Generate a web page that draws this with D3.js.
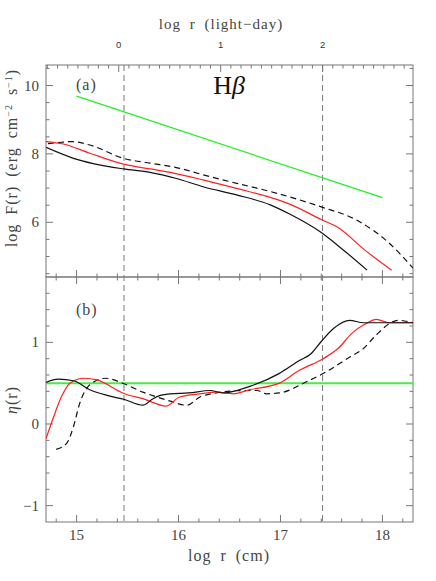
<!DOCTYPE html>
<html>
<head>
<meta charset="utf-8">
<script src="https://cdn.jsdelivr.net/npm/d3@7"></script>
<style>
  body { margin: 0; background: #fff; }
  svg text { font-family: "Liberation Serif", "DejaVu Serif", serif; }
  svg text.sans { font-family: "Liberation Sans", "DejaVu Sans", sans-serif; }
</style>
</head>
<body>
<div id="chart"></div>
<script>
// panel (a) : log F(r)
const fluxBlack = [[14.70,8.19],[14.97,7.87],[15.46,7.56],[15.72,7.46],[15.98,7.28],[16.24,7.04],[16.57,6.80],[16.90,6.51],[17.09,6.24],[17.40,5.70],[17.58,5.28],[17.85,4.60]];
const fluxRed = [[14.70,8.36],[14.87,8.29],[15.13,8.02],[15.46,7.70],[15.72,7.56],[15.95,7.44],[16.24,7.24],[16.57,6.99],[16.90,6.73],[17.09,6.53],[17.40,6.08],[17.58,5.82],[17.81,5.23],[18.09,4.60]];
const fluxDashed = [[14.72,8.30],[14.85,8.34],[14.95,8.36],[15.13,8.26],[15.46,7.87],[15.72,7.73],[15.98,7.60],[16.24,7.39],[16.57,7.14],[16.90,6.90],[17.17,6.67],[17.40,6.45],[17.75,6.06],[18.07,5.38],[18.30,4.66]];
const fluxGreen = [[15.0,9.69],[18.0,6.72]];

// panel (b) : eta(r)
const etaBlack = [[14.70,0.51],[14.82,0.55],[14.97,0.53],[15.13,0.42],[15.30,0.35],[15.47,0.30],[15.65,0.23],[15.75,0.31],[15.82,0.35],[15.92,0.37],[16.10,0.38],[16.31,0.41],[16.44,0.38],[16.57,0.41],[16.70,0.46],[16.99,0.62],[17.19,0.78],[17.30,0.86],[17.40,1.01],[17.52,1.17],[17.68,1.27],[17.81,1.24],[18.30,1.24]];
const etaRed = [[14.70,-0.18],[14.77,0.07],[14.85,0.33],[14.935,0.50],[15.07,0.56],[15.20,0.54],[15.47,0.37],[15.65,0.31],[15.88,0.22],[16.01,0.33],[16.21,0.37],[16.37,0.39],[16.54,0.37],[16.70,0.42],[16.99,0.50],[17.19,0.66],[17.42,0.80],[17.57,0.93],[17.70,1.11],[17.84,1.23],[17.94,1.28],[18.07,1.24],[18.30,1.24]];
const etaDashed = [[14.80,-0.31],[14.90,-0.24],[14.97,-0.03],[15.03,0.25],[15.13,0.48],[15.28,0.56],[15.47,0.49],[15.65,0.39],[15.79,0.33],[15.92,0.28],[16.08,0.23],[16.21,0.33],[16.37,0.38],[16.63,0.41],[16.77,0.41],[16.86,0.37],[16.99,0.38],[17.26,0.52],[17.45,0.64],[17.68,0.82],[17.80,0.91],[17.94,1.09],[18.07,1.23],[18.15,1.27],[18.30,1.24]];
const etaGreen = [[14.70,0.5],[18.30,0.5]];

// axes
const xTickLabels = [15, 16, 17, 18];
const dayTickLabels = [0, 1, 2];
const fluxTickLabels = [6, 8, 10];
const etaTickLabels = [-1, 0, 1];
const guideLines = [15.465, 17.413]; // dashed verticals (log r, cm)
const lightDay = 15.4134; // log(1 light-day in cm)

const W = 436, H = 581;
const axisCol = "#777", textCol = "#444";

const svg = d3.select("#chart").append("svg")
  .attr("width", W).attr("height", H);

const x = d3.scaleLinear().domain([14.7, 18.3]).range([46, 413]);
const ya = d3.scaleLinear().domain([4.4, 10.6]).range([277, 65]);
const yb = d3.scaleLinear().domain([-1.2, 1.8]).range([522, 277]);

const left = x.range()[0], right = x.range()[1];
const aTop = ya.range()[1], mid = ya.range()[0], bBot = yb.range()[0];

// clip paths
const defs = svg.append("defs");
defs.append("clipPath").attr("id", "clipA").append("rect")
  .attr("x", left).attr("y", aTop).attr("width", right - left).attr("height", mid - aTop);
defs.append("clipPath").attr("id", "clipB").append("rect")
  .attr("x", left).attr("y", mid).attr("width", right - left).attr("height", bBot - mid);

function range(a, b, s) {
  const out = [];
  for (let v = a; v <= b + 1e-9; v += s) out.push(Math.round(v * 1000) / 1000);
  return out;
}

// vertical ticks along a horizontal edge
function xTicks(yPos, vals, len, dir, pos) {
  svg.append("g").selectAll("line").data(vals).join("line")
    .attr("x1", d => pos(d)).attr("x2", d => pos(d))
    .attr("y1", yPos).attr("y2", yPos + dir * len)
    .attr("stroke", axisCol).attr("stroke-width", 1);
}
// horizontal ticks along a vertical edge
function yTicks(scale, xPos, vals, len, dir) {
  svg.append("g").selectAll("line").data(vals).join("line")
    .attr("x1", xPos).attr("x2", xPos + dir * len)
    .attr("y1", d => scale(d)).attr("y2", d => scale(d))
    .attr("stroke", axisCol).attr("stroke-width", 1);
}

const xMinor = range(14.8, 18.2, 0.2).filter(d => !xTickLabels.includes(Math.round(d * 10) / 10));
const dayPos = d => x(d + lightDay);
const dayAll = range(-0.7, 2.8, 0.1).filter(d => dayPos(d) > left + 1 && dayPos(d) < right - 1);
const dayMinor = dayAll.filter(d => !dayTickLabels.includes(d));

// bottom axis of panel b
xTicks(bBot, xTickLabels, 7, -1, x);
xTicks(bBot, xMinor, 3.5, -1, x);
// shared edge between panels
xTicks(mid, xTickLabels, 7, -1, x);
xTicks(mid, xMinor, 3.5, -1, x);
xTicks(mid, xTickLabels, 7, 1, x);
xTicks(mid, xMinor, 3.5, 1, x);
// top axis (light-day)
xTicks(aTop, dayTickLabels, 7, 1, dayPos);
xTicks(aTop, dayMinor, 3.5, 1, dayPos);

// panel a y ticks
const fluxMinor = range(4.5, 10.5, 0.5).filter(d => !fluxTickLabels.includes(d));
yTicks(ya, left, fluxTickLabels, 7, 1);
yTicks(ya, left, fluxMinor, 3.5, 1);
yTicks(ya, right, fluxTickLabels, 7, -1);
yTicks(ya, right, fluxMinor, 3.5, -1);

// panel b y ticks
const etaMinor = range(-1.0, 1.6, 0.2).filter(d => !etaTickLabels.includes(Math.round(d * 10) / 10));
yTicks(yb, left, etaTickLabels, 7, 1);
yTicks(yb, left, etaMinor, 3.5, 1);
yTicks(yb, right, etaTickLabels, 7, -1);
yTicks(yb, right, etaMinor, 3.5, -1);

// frames
svg.append("rect").attr("x", left).attr("y", aTop).attr("width", right - left).attr("height", mid - aTop)
  .attr("fill", "none").attr("stroke", axisCol).attr("stroke-width", 1);
svg.append("rect").attr("x", left).attr("y", mid).attr("width", right - left).attr("height", bBot - mid)
  .attr("fill", "none").attr("stroke", axisCol).attr("stroke-width", 1);

// dashed guide lines
svg.append("g").selectAll("line").data(guideLines).join("line")
  .attr("x1", d => x(d)).attr("x2", d => x(d))
  .attr("y1", aTop).attr("y2", bBot)
  .attr("stroke", axisCol).attr("stroke-width", 1)
  .attr("stroke-dasharray", "6,4");

// curves
const lineA = d3.line().x(d => x(d[0])).y(d => ya(d[1])).curve(d3.curveMonotoneX);
const lineB = d3.line().x(d => x(d[0])).y(d => yb(d[1])).curve(d3.curveMonotoneX);

const gA = svg.append("g").attr("clip-path", "url(#clipA)");
const gB = svg.append("g").attr("clip-path", "url(#clipB)");

function curve(g, gen, data, col, dash, w) {
  g.append("path").datum(data)
    .attr("d", gen)
    .attr("fill", "none")
    .attr("stroke", col)
    .attr("stroke-width", w || 1.2)
    .attr("stroke-dasharray", dash || null);
}

curve(gA, lineA, fluxGreen, "#22ee22");
curve(gA, lineA, fluxDashed, "#111", "6,4");
curve(gA, lineA, fluxRed, "#ff2020");
curve(gA, lineA, fluxBlack, "#111");

curve(gB, lineB, etaGreen, "#44ee44", null, 2);
curve(gB, lineB, etaDashed, "#111", "6,4");
curve(gB, lineB, etaRed, "#ff2020");
curve(gB, lineB, etaBlack, "#111");

// tick labels
svg.append("g").selectAll("text").data(xTickLabels).join("text")
  .attr("x", d => x(d)).attr("y", 540)
  .attr("text-anchor", "middle").attr("font-size", 15).attr("fill", textCol)
  .text(d => d);

svg.append("g").selectAll("text").data(dayTickLabels).join("text")
  .attr("class", "sans")
  .attr("x", d => dayPos(d)).attr("y", 48)
  .attr("text-anchor", "middle").attr("font-size", 9.5).attr("fill", "#333")
  .text(d => d);

svg.append("g").selectAll("text").data(fluxTickLabels).join("text")
  .attr("x", 39).attr("y", d => ya(d) + 5)
  .attr("text-anchor", "end").attr("font-size", 15).attr("fill", textCol)
  .text(d => d);

svg.append("g").selectAll("text").data(etaTickLabels).join("text")
  .attr("x", 39).attr("y", d => yb(d) + 5)
  .attr("text-anchor", "end").attr("font-size", 15).attr("fill", textCol)
  .text(d => d < 0 ? "\u2212" + Math.abs(d) : d);

// axis titles
svg.append("text").attr("x", 229).attr("y", 561)
  .attr("text-anchor", "middle").attr("font-size", 16).attr("fill", textCol)
  .attr("letter-spacing", 1).attr("word-spacing", 4)
  .text("log r (cm)");

svg.append("text").attr("x", 221).attr("y", 29)
  .attr("text-anchor", "middle").attr("font-size", 15).attr("fill", textCol)
  .attr("letter-spacing", 1).attr("word-spacing", 4)
  .text("log r (light\u2212day)");

const yLabA = svg.append("text")
  .attr("transform", "translate(17," + 158 + ") rotate(-90)")
  .attr("text-anchor", "middle").attr("font-size", 16).attr("fill", textCol)
  .attr("letter-spacing", 1).attr("word-spacing", 4);
yLabA.append("tspan").text("log F(r) (erg cm");
yLabA.append("tspan").attr("dy", -5).attr("font-size", 10).text("\u22122");
yLabA.append("tspan").attr("dy", 5).text(" s");
yLabA.append("tspan").attr("dy", -5).attr("font-size", 10).text("\u22121");
yLabA.append("tspan").attr("dy", 5).text(")");

const yLabB = svg.append("text")
  .attr("transform", "translate(17," + 400 + ") rotate(-90)")
  .attr("text-anchor", "middle").attr("font-size", 16).attr("fill", textCol)
  .attr("letter-spacing", 1);
yLabB.append("tspan").attr("font-style", "italic").text("\u03b7");
yLabB.append("tspan").text("(r)");

// panel labels
svg.append("text").attr("x", 76).attr("y", 90)
  .attr("font-size", 16).attr("fill", textCol).attr("letter-spacing", 1).text("(a)");
svg.append("text").attr("x", 76).attr("y", 315)
  .attr("font-size", 16).attr("fill", textCol).attr("letter-spacing", 1).text("(b)");

const hb = svg.append("text").attr("x", 229).attr("y", 94)
  .attr("text-anchor", "middle").attr("font-size", 26).attr("fill", "#111");
hb.append("tspan").text("H");
hb.append("tspan").attr("font-style", "italic").text("\u03b2");
</script>
</body>
</html>
